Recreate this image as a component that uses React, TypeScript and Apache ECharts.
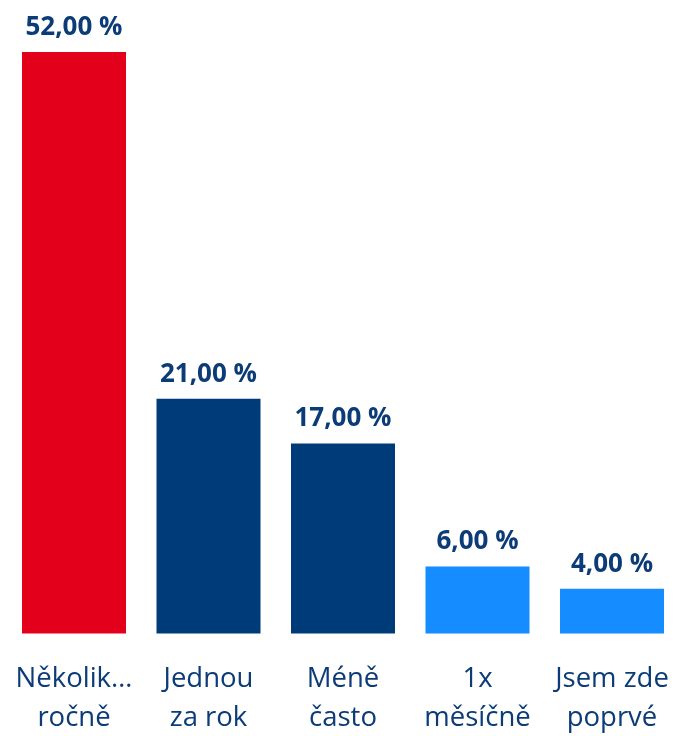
import React, { useEffect, useRef } from "react";
import * as echarts from "echarts";

const categories = ["Několik…\nročně", "Jednou\nza rok", "Méně\nčasto", "1x\nměsíčně", "Jsem zde\npoprvé"];
const values = [52, 21, 17, 6, 4];
const barColors = ["#E3001B", "#003B79", "#003B79", "#158CFF", "#158CFF"];

export default function App() {
  const ref = useRef<HTMLDivElement>(null);
  useEffect(() => {
    if (!ref.current) return;
    const chart = echarts.init(ref.current, undefined, { renderer: "svg" });
    chart.setOption({
      animation: false,
      grid: { left: 6.75, top: 52, width: 672.5, bottom: 102.5, containLabel: false },
      xAxis: {
        type: "category",
        data: categories,
        axisLine: { show: false },
        axisTick: { show: false },
        axisLabel: {
          interval: 0,
          color: "#0B3C78",
          fontFamily: "Open Sans",
          fontSize: 27.5,
          lineHeight: 39,
          margin: 23,
        },
      },
      yAxis: { type: "value", min: 0, max: 52, show: false, splitLine: { show: false } },
      series: [
        {
          type: "bar",
          barWidth: 104,
          data: values.map((v, i) => ({ value: v, itemStyle: { color: barColors[i] } })),
          label: {
            show: true,
            position: "top",
            distance: 14,
            color: "#0B3C78",
            fontFamily: "Open Sans",
            fontWeight: "bold",
            fontSize: 26,
            formatter: (p: any) => p.value.toFixed(2).replace(".", ",") + " %",
          },
        },
      ],
    });
    return () => chart.dispose();
  }, []);
  return (
    <div style={{ position: "fixed", left: 0, top: 0, width: 676, height: 736, overflow: "hidden" }}>
      <div ref={ref} style={{ width: 700, height: 736 }} />
    </div>
  );
}
